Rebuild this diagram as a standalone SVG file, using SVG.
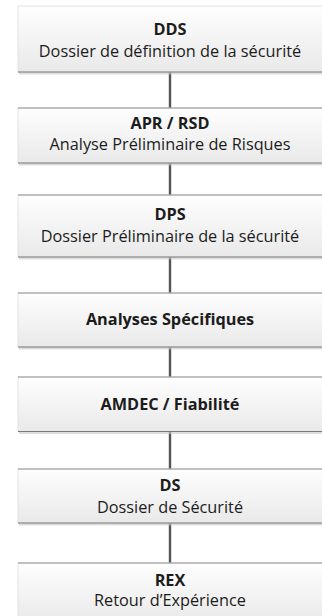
<svg xmlns="http://www.w3.org/2000/svg" width="322" height="616" viewBox="0 0 322 616">
<defs>
<linearGradient id="g" x1="0" y1="0" x2="0" y2="1">
<stop offset="0" stop-color="#fefefe"/>
<stop offset="1" stop-color="#e9e9e9"/>
</linearGradient>
<style>
.box{fill:url(#g);stroke:#dcdcdc;stroke-width:0.8}
.sh{fill:#c8c8c8;opacity:0.6}
.bt{stroke:#7a7a7a;stroke-width:1.2}
.tp{stroke:#8f8f8f;stroke-width:1}
.t{font-family:"Open Sans","Liberation Sans",sans-serif;font-size:16.3px;fill:#1c1c1c;text-anchor:middle}
.b{font-weight:bold}
.c{stroke:#555;stroke-width:2.4;fill:none}
</style>
</defs>
<rect width="322" height="616" fill="#fff"/>
<g id="connectors">
<line class="c" x1="170" y1="72" x2="170" y2="108"/>
<line class="c" x1="170" y1="163" x2="170" y2="195"/>
<line class="c" x1="170" y1="257" x2="170" y2="293"/>
<line class="c" x1="170" y1="347" x2="170" y2="377"/>
<line class="c" x1="170" y1="431.5" x2="170" y2="469"/>
<line class="c" x1="170" y1="523" x2="170" y2="563"/>
</g>
<g id="n1">
<rect class="sh" x="19" y="72" width="303" height="2.5"/>
<rect class="box" x="18" y="6" width="306" height="66"/>
<line class="bt" x1="18" y1="72" x2="322" y2="72"/>
<text class="t b" x="170" y="34.5">DDS</text>
<text class="t" x="170" y="56.8">Dossier de définition de la sécurité</text>
</g>
<g id="n2">
<rect class="sh" x="19" y="163" width="303" height="2.5"/>
<rect class="box" x="18" y="108" width="306" height="55"/>
<line class="tp" x1="18" y1="108" x2="322" y2="108"/>
<line class="bt" x1="18" y1="163" x2="322" y2="163"/>
<text class="t b" x="170" y="129.3">APR / RSD</text>
<text class="t" x="170" y="150">Analyse Préliminaire de Risques</text>
</g>
<g id="n3">
<rect class="sh" x="19" y="257" width="303" height="2.5"/>
<rect class="box" x="18" y="195" width="306" height="62"/>
<line class="tp" x1="18" y1="195" x2="322" y2="195"/>
<line class="bt" x1="18" y1="257" x2="322" y2="257"/>
<text class="t b" x="170" y="220">DPS</text>
<text class="t" x="170" y="241.7">Dossier Préliminaire de la sécurité</text>
</g>
<g id="n4">
<rect class="sh" x="19" y="347" width="303" height="2.5"/>
<rect class="box" x="18" y="293" width="306" height="54"/>
<line class="tp" x1="18" y1="293" x2="322" y2="293"/>
<line class="bt" x1="18" y1="347" x2="322" y2="347"/>
<text class="t b" x="170" y="324.5">Analyses Spécifiques</text>
</g>
<g id="n5">
<rect class="sh" x="19" y="431.5" width="303" height="2.5"/>
<rect class="box" x="18" y="377" width="306" height="54.5"/>
<line class="tp" x1="18" y1="377" x2="322" y2="377"/>
<line class="bt" x1="18" y1="431.5" x2="322" y2="431.5"/>
<text class="t b" x="170" y="410">AMDEC / Fiabilité</text>
</g>
<g id="n6">
<rect class="sh" x="19" y="523" width="303" height="2.5"/>
<rect class="box" x="18" y="469" width="306" height="54"/>
<line class="tp" x1="18" y1="469" x2="322" y2="469"/>
<line class="bt" x1="18" y1="523" x2="322" y2="523"/>
<text class="t b" x="170" y="491">DS</text>
<text class="t" x="170" y="512.7">Dossier de Sécurité</text>
</g>
<g id="n7">
<rect class="box" x="18" y="563" width="306" height="60"/>
<line class="tp" x1="18" y1="563" x2="322" y2="563"/>
<text class="t b" x="170" y="586">REX</text>
<text class="t" x="170" y="606">Retour d’Expérience</text>
</g>
</svg>
